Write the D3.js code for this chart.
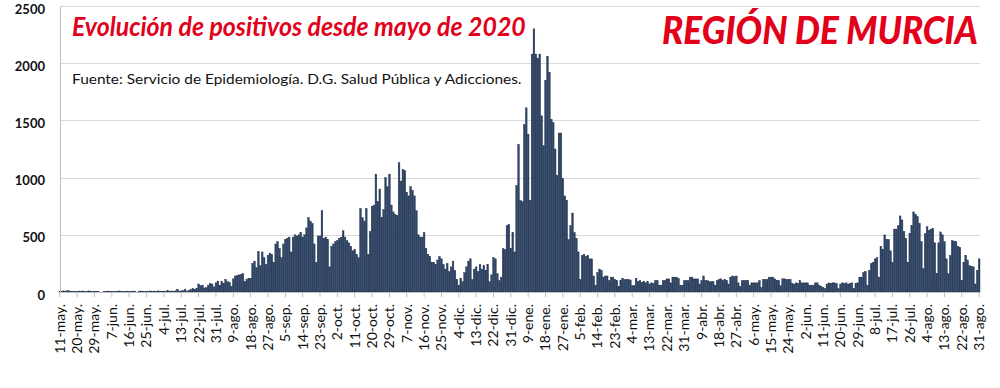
<!DOCTYPE html>
<html>
<head>
<meta charset="utf-8">
<script src="https://cdn.jsdelivr.net/npm/d3@7"></script>
<style>
  body { margin: 0; background: #fff; }
  svg { display: block; }
</style>
</head>
<body>
<svg id="chart"></svg>
<script>
// Etiquetas del eje X (cada 9 días desde el 11 de mayo de 2020)
const tickLabels = [
  "11-may.", "20-may.", "29-may.", "7-jun.", "16-jun.", "25-jun.", "4-jul.", "13-jul.", "22-jul.",
  "31-jul.", "9-ago.", "18-ago.", "27-ago.", "5-sep.", "14-sep.", "23-sep.", "2-oct.", "11-oct.",
  "20-oct.", "29-oct.", "7-nov.", "16-nov.", "25-nov.", "4-dic.", "13-dic.", "22-dic.", "31-dic.",
  "9-ene.", "18-ene.", "27-ene.", "5-feb.", "14-feb.", "23-feb.", "4-mar.", "13-mar.", "22-mar.",
  "31-mar.", "9-abr.", "18-abr.", "27-abr.", "6-may.", "15-may.", "24-may.", "2-jun.", "11-jun.",
  "20-jun.", "29-jun.", "8-jul.", "17-jul.", "26-jul.", "4-ago.", "13-ago.", "22-ago.", "31-ago."
];
const tickStep = 9;

// Positivos diarios, 11-may-2020 a 31-ago-2021
const positivos = [
  8, 6, 10, 5, 12, 9, 7, 4, 6,
  5, 8, 6, 9, 3, 7, 10, 6, 4,
  5, 7, 3, 0, 0, 6, 4, 8, 5,
  6, 4, 7, 5, 9, 3, 6, 5, 8,
  4, 6, 8, 5, 0, 7, 9, 6, 5,
  7, 5, 9, 6, 8, 4, 10, 6, 7,
  8, 5, 12, 7, 9, 6, 10, 25, 8,
  10, 12, 25, 8, 15, 20, 30, 22, 28,
  70, 55, 60, 35, 40, 60, 75, 70, 45,
  80, 95, 60, 90, 75, 110, 90, 85, 50,
  115, 140, 145, 150, 155, 160, 90, 110, 120,
  120, 250, 270, 215, 355, 230, 350, 300, 240,
  320, 340, 330, 260, 420, 440, 380, 300, 420,
  460, 470, 480, 350, 480, 500, 490, 500, 520,
  480, 500, 560, 650, 620, 600, 420, 260, 490,
  490, 710, 470, 480, 460, 220, 400, 420, 440,
  450, 470, 480, 535, 480, 450, 430, 400, 360,
  370, 330, 300, 730, 650, 620, 730, 330, 530,
  750, 760, 1030, 790, 900, 650, 720, 1000, 920,
  1030, 760, 700, 680, 670, 1130, 970, 1070, 1060,
  870, 840, 920, 890, 840, 710, 500, 480, 480,
  520, 380, 330, 310, 260, 260, 240, 280, 310,
  290, 240, 200, 250, 180, 220, 270, 190, 110,
  60, 120, 90, 170, 220, 270, 290, 110, 200,
  220, 180, 240, 200, 230, 190, 240, 90, 150,
  300, 290, 160, 100, 130, 380, 370, 580, 590,
  380, 520, 350, 930, 1290, 800, 790, 1465, 1610,
  1380, 800, 2080, 2300, 2080, 2040, 2080, 1540, 1280,
  1850, 2060, 1920, 1510, 1480, 1250, 1020, 1390, 1390,
  990, 840, 800, 460, 580, 690, 520, 470, 350,
  110, 320, 330, 310, 320, 290, 290, 140, 60,
  170, 200, 190, 130, 140, 140, 100, 130, 130,
  110, 100, 50, 100, 120, 110, 110, 110, 105,
  55, 55, 120, 90, 100, 85, 95, 80, 90,
  70, 80, 75, 100, 100, 60, 60, 100, 100,
  115, 115, 80, 130, 130, 130, 120, 60, 60,
  100, 100, 100, 130, 130, 115, 115, 115, 70,
  100, 140, 100, 100, 90, 90, 90, 60, 100,
  110, 115, 100, 110, 100, 70, 130, 140, 135,
  140, 80, 50, 100, 100, 100, 100, 60, 80,
  80, 80, 80, 100, 40, 110, 110, 110, 130,
  130, 130, 115, 100, 100, 55, 115, 115, 110,
  110, 110, 75, 70, 80, 75, 100, 80, 80,
  80, 80, 60, 60, 60, 80, 80, 60, 50,
  40, 30, 70, 80, 75, 80, 80, 75, 30,
  70, 80, 75, 80, 70, 75, 80, 30, 75,
  80,
  130, 130, 170, 180, 60, 190, 250, 260, 290, 300,
  130, 400, 370, 500, 460, 460, 360, 260, 550, 550,
  580, 665, 630, 530, 470, 260, 510, 580, 700, 680,
  660, 600, 440, 205, 510, 570, 540, 550, 555, 430,
  160, 430, 525, 500, 440, 290, 160, 320, 450, 445,
  440, 400, 390, 100, 260, 320, 280, 230, 225, 220,
  70, 190, 290
];

const yTicks = [0, 500, 1000, 1500, 2000, 2500];

const titulo = "Evolución de positivos desde mayo de 2020";
const fuente = "Fuente: Servicio de Epidemiología. D.G. Salud Pública y Adicciones.";
const region = "REGIÓN DE MURCIA";

// squeeze a text horizontally to a target width (keeps glyph height)
function fitWidth(sel, x, y, targetWidth) {
  const w = sel.node().getComputedTextLength();
  sel.attr("transform", `translate(${x},${y}) scale(${targetWidth / w},1)`);
}

function drawChart(container) {
  const width = 1000;
  const height = 388;
  const left = 59, right = 980, top = 6, bottom = 292;

  const svg = d3.select(container)
    .attr("width", width)
    .attr("height", height);

  const x = d3.scaleBand()
    .domain(d3.range(positivos.length))
    .range([left, right])
    .paddingInner(0.12);

  const y = d3.scaleLinear()
    .domain([0, 2500])
    .range([bottom, top]);

  // Grid
  svg.append("g")
    .selectAll("line")
    .data(yTicks.filter(d => d > 0))
    .join("line")
    .attr("x1", 60).attr("x2", right)
    .attr("y1", d => Math.round(y(d)) + 0.5)
    .attr("y2", d => Math.round(y(d)) + 0.5)
    .attr("stroke", "#d9d9d9")
    .attr("stroke-width", 1);

  // Bars
  svg.append("g")
    .selectAll("rect")
    .data(positivos)
    .join("rect")
    .attr("x", (d, i) => x(i))
    .attr("width", x.bandwidth())
    .attr("y", d => y(d))
    .attr("height", d => bottom - y(d))
    .attr("fill", "#2d4467")
    .attr("stroke", "#1d2d48")
    .attr("stroke-width", 0.4);

  // Y axis
  const yAxis = svg.append("g")
    .attr("transform", "translate(60,0)")
    .call(d3.axisLeft(y)
      .tickValues(yTicks)
      .tickFormat(d3.format("d"))
      .tickSize(0)
      .tickPadding(15));
  yAxis.select(".domain")
    .attr("stroke", "#bfbfbf");
  yAxis.selectAll("text")
    .attr("dy", "0.55em")
    .style("font-family", "Lato, 'Open Sans', sans-serif")
    .style("font-size", "13px")
    .style("font-weight", "700")
    .attr("fill", "#111");

  // X axis
  const xAxis = svg.append("g")
    .attr("transform", `translate(0,${bottom})`)
    .call(d3.axisBottom(x)
      .tickValues(d3.range(0, positivos.length, tickStep))
      .tickFormat(i => tickLabels[i / tickStep])
      .tickSize(5)
      .tickSizeOuter(0));
  xAxis.select(".domain").attr("stroke", "#bfbfbf");
  xAxis.selectAll(".tick line").attr("stroke", "#bfbfbf");
  xAxis.selectAll("text")
    .attr("transform", "rotate(-90)")
    .attr("text-anchor", "end")
    .attr("x", -12)
    .attr("y", 0)
    .attr("dy", "0.35em")
    .style("font-family", "Lato, 'Open Sans', sans-serif")
    .style("font-size", "14px")
    .attr("fill", "#111");

  // Titles
  const t1 = svg.append("text")
    .style("font-family", "Lato, sans-serif")
    .style("font-size", "26px")
    .style("font-weight", "700")
    .style("font-style", "italic")
    .attr("fill", "#e2001a")
    .text(titulo);
  fitWidth(t1, 72, 36, 454);

  const t2 = svg.append("text")
    .style("font-family", "Lato, sans-serif")
    .style("font-size", "14px")
    .attr("fill", "#111")
    .text(fuente);
  fitWidth(t2, 72, 84, 450);

  const t3 = svg.append("text")
    .style("font-family", "Lato, sans-serif")
    .style("font-size", "38px")
    .style("font-weight", "900")
    .style("font-style", "italic")
    .attr("fill", "#e2001a")
    .text(region);
  fitWidth(t3, 662, 44, 316);
}

drawChart(document.querySelector("#chart"));
</script>
</body>
</html>
